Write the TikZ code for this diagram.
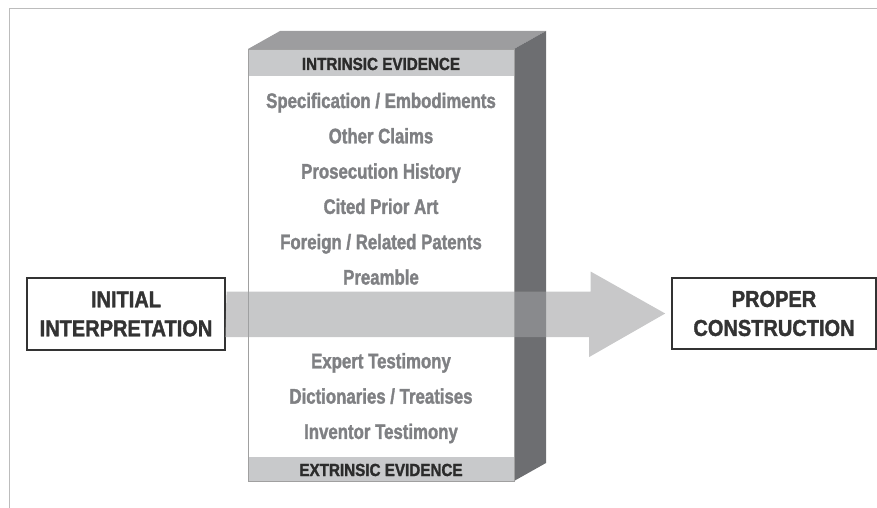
\documentclass[tikz,border=0pt]{standalone}
\usepackage{fontspec}
\newfontfamily\capfont[FakeStretch=0.87, BoldFeatures={FakeBold=1.5}]{Liberation Sans}
\newfontfamily\itemfont[FakeStretch=0.8, BoldFeatures={FakeBold=1.5}]{Liberation Sans}
\usetikzlibrary{calc}
\definecolor{framegray}{HTML}{BCBCBC}
\definecolor{facetop}{HTML}{9D9D9F}
\definecolor{faceside}{HTML}{6D6E71}
\definecolor{bandgray}{HTML}{C8C9CB}
\definecolor{edgegray}{HTML}{A0A0A0}
\definecolor{itemgray}{HTML}{7F8083}
\definecolor{headgray}{HTML}{2B2B2B}
\definecolor{boxline}{HTML}{333333}
\definecolor{flowgray}{HTML}{9FA0A2}
\tikzset{
  outbox/.style={draw=boxline, line width=1.6pt, fill=white, align=center, inner sep=0,
    text=boxline, font=\capfont\bfseries\fontsize{23}{29}\selectfont},
  item/.style={anchor=base, text=itemgray, font=\itemfont\bfseries\fontsize{21}{21}\selectfont},
  head/.style={anchor=base, text=headgray, font=\capfont\bfseries\fontsize{17.5}{17.5}\selectfont},
  flow/.style={fill=flowgray, fill opacity=.575}
}
\begin{document}
\begin{tikzpicture}[x=1pt, y=-1pt]
\useasboundingbox (0,0) rectangle (877,508);
\draw [framegray, line width=1pt] (9,508) -- (9,9) -- (877,9);

\fill [facetop] (248,49) -- (280,31) -- (546,31) -- (514,49) -- cycle;
\fill [faceside] (514,49) -- (546,31) -- (546,463) -- (514,481) -- cycle;
\fill [white] (248,49) rectangle (514,481);
\fill [bandgray] (248,49) rectangle (514,76);
\fill [bandgray] (248,457) rectangle (514,481);
\draw [edgegray, line width=.8pt] (248,49) rectangle (514,481);

\node [head] (intrinsic) at (381,70) {INTRINSIC EVIDENCE};
\node [head] (extrinsic) at (381,476) {EXTRINSIC EVIDENCE};

\foreach \t [count=\i] in {Specification / Embodiments, Other Claims, Prosecution History,
    Cited Prior Art, Foreign / Related Patents, Preamble}
  \node [item] (intr\i) at (381, 72.7 + 35.3*\i) {\t};
\foreach \t [count=\i] in {Expert Testimony, Dictionaries / Treatises, Inventor Testimony}
  \node [item] (extr\i) at (381, 333 + 35.3*\i) {\t};

\node [outbox, minimum width=198pt, minimum height=72pt] (initial) at (126,314) {INITIAL\\INTERPRETATION};
\node [outbox, minimum width=204pt, minimum height=71pt] (proper) at (774,313.5) {PROPER\\CONSTRUCTION};

\coordinate (tail) at ($(initial.east) + (0.8,0)$);
\coordinate (tip) at ($(proper.west) + (-6,0)$);
\fill [flow] (tail) ++(0,-22.5) -- ++(364,0) -- ++(0,-20) -- (tip) -- ++(-76,43.5)
  -- ++(0,-20) -- ++(-364,0) -- cycle;

\end{tikzpicture}
\end{document}
